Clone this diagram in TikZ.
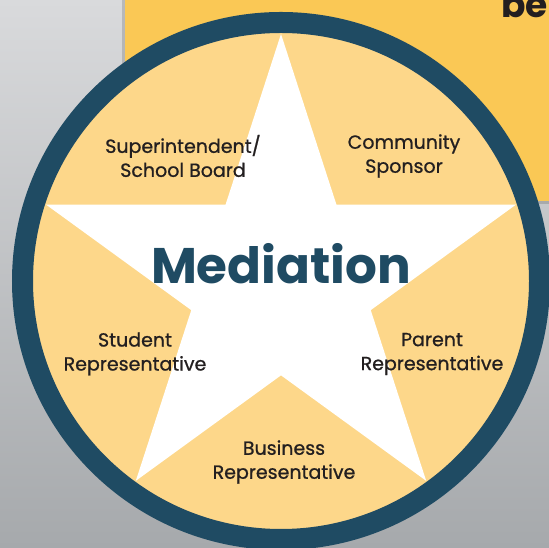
\documentclass[tikz,border=0pt]{standalone}
\usepackage{fontspec}
\setmainfont{Poppins}
\newfontfamily\seatfont{Poppins}[FakeBold=0.9]
\usetikzlibrary{shapes.geometric}
\usepackage{xcolor}
\definecolor{ringblue}{RGB}{31,75,99}
\definecolor{seatfill}{RGB}{253,215,138}
\definecolor{panelyellow}{RGB}{250,200,85}
\definecolor{inkdark}{RGB}{35,31,32}
\definecolor{greytop}{RGB}{217,218,220}
\definecolor{greybottom}{RGB}{166,169,172}

\begin{document}
\begin{tikzpicture}[x=1pt,y=1pt]
\tikzstyle{ring} = [circle, minimum size=517pt, inner sep=0pt, draw=ringblue, line width=21pt, fill=seatfill]
\tikzstyle{starshape} = [star, star points=5, star point ratio=2.618, minimum size=494pt, inner sep=0pt, fill=white]
\tikzstyle{title} = [text=ringblue, font=\fontsize{50}{50}\selectfont\bfseries]
\tikzstyle{member} = [align=center, text=inkdark, font=\seatfont\fontsize{19}{24}\selectfont]

\useasboundingbox (0,0) rectangle (549,548);
% backdrop
\fill[top color=greytop, bottom color=greybottom] (0,0) rectangle (549,548);
\fill[black, opacity=0.15] (122,344) rectangle (549,548);
\fill[panelyellow] (125,347) rectangle (549,548);
\node (be) [anchor=base west, text=inkdark, font=\fontsize{36}{36}\selectfont\bfseries, inner sep=0pt] at (501,530) {be};

% circle and star
\node (ring) [ring] at (281,267) {};
\node (star) [starshape] at (ring.center) {};

\node (title) [title] at (281,284) {Mediation};
\node (board) [member] at (183,392) {Superintendent/\\School Board};
\node (sponsor) [member] at (404,392) {Community\\Sponsor};
\node (student) [member] at (135,194) {Student\\Representative};
\node (parent) [member] at (432,194) {Parent\\Representative};
\node (business) [member] at (284,86) {Business\\Representative};
\end{tikzpicture}
\end{document}
